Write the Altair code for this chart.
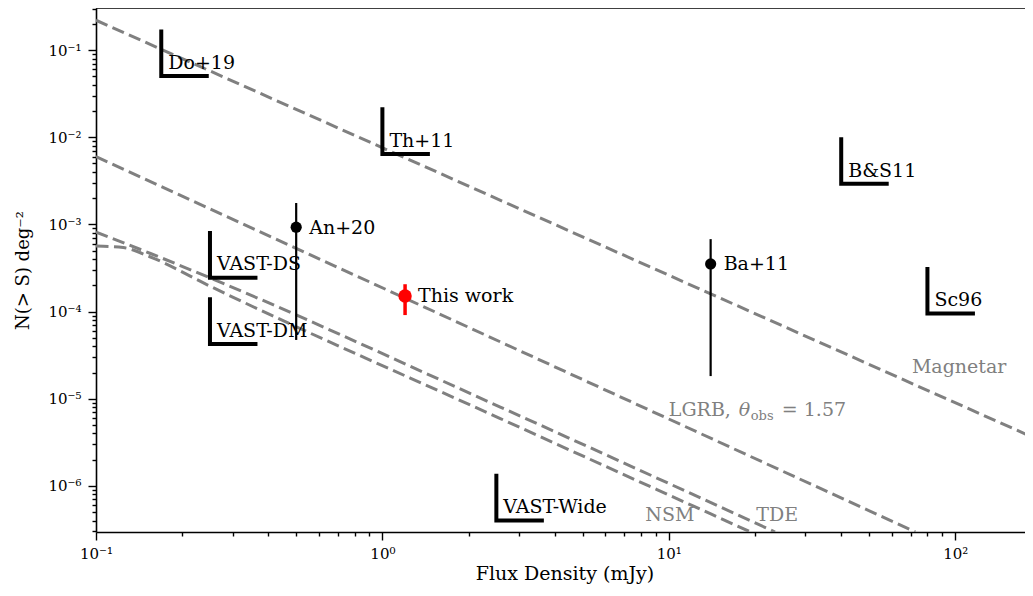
import altair as alt
import pandas as pd

# ---------------- axis limits and ticks ----------------
x_limits = [0.1, 175.3]
y_limits = [2.96e-7, 0.304]
x_decades = [0.1, 1, 10, 100]
y_decades = [1e-7, 1e-6, 1e-5, 1e-4, 1e-3, 1e-2, 1e-1]
minor_multipliers = [2, 3, 4, 5, 6, 7, 8, 9]
exponent_labels = ["⁻⁷", "⁻⁶", "⁻⁵", "⁻⁴", "⁻³", "⁻²", "⁻¹", "⁰", "¹", "²"]

# ---------------- upper limits (L-shaped markers) ----------------
lim_names = ["Do+19", "Th+11", "B&S11", "Sc96", "VAST-DS", "VAST-DM", "VAST-Wide"]
lim_flux = [0.169, 1.0, 40.0, 80.0, 0.25, 0.25, 2.5]
lim_rate = [0.0505, 6.44e-3, 2.92e-3, 9.5e-5, 2.45e-4, 4.26e-5, 4.02e-7]
lim_group = ["lit", "lit", "lit", "lit", "VAST", "VAST", "VAST"]

# ---------------- detections with error bars ----------------
det_names = ["An+20", "Ba+11", "This work"]
det_flux = [0.5, 14.0, 1.2]
det_rate = [9.29e-4, 3.52e-4, 1.51e-4]
det_low = [4.73e-5, 1.82e-5, 9.12e-5]
det_high = [1.76e-3, 6.78e-4, 2.06e-4]
det_group = ["lit", "lit", "this"]

# ---------------- model curves ----------------
magnetar_flux = [0.1, 185.4]
magnetar_rate = [0.22, 3.65e-6]
lgrb_flux = [0.1, 72.6]
lgrb_rate = [6.0e-3, 2.96e-7]
tde_flux = [0.1, 0.155, 0.249, 2.58, 23.5]
tde_rate = [8.15e-4, 4.64e-4, 2.45e-4, 8.03e-6, 2.96e-7]
nsm_flux = [0.1, 0.1245, 0.155, 0.249, 2.58, 19.3]
nsm_rate = [5.64e-4, 5.42e-4, 4.23e-4, 1.97e-4, 5.93e-6, 2.96e-7]

# ---------------- curve labels ----------------
curve_label_names = ["Magnetar", "NSM", "TDE"]
curve_label_flux = [70.6, 8.28, 20.2]
curve_label_rate = [1.96e-5, 3.99e-7, 3.99e-7]
lgrb_label_flux = [10.0]
lgrb_label_rate = [6.38e-6]

# ---------------- build tables ----------------
x_ticks = sorted({round(d * m, 6) for d in x_decades for m in [1] + minor_multipliers
                  if x_limits[0] <= d * m <= x_limits[1]})
y_ticks = sorted({float(f"{d * m:.3g}") for d in y_decades for m in [1] + minor_multipliers
                  if y_limits[0] <= d * m <= y_limits[1]})

curves = []
for name, fx, ry in [("Magnetar", magnetar_flux, magnetar_rate), ("LGRB", lgrb_flux, lgrb_rate),
                     ("TDE", tde_flux, tde_rate), ("NSM", nsm_flux, nsm_rate)]:
    for i, (f, r) in enumerate(zip(fx, ry)):
        curves.append({"model": name, "flux": f, "rate": r, "order": i})
curves_df = pd.DataFrame(curves)

lim_df = pd.DataFrame({"name": lim_names, "flux": lim_flux, "rate": lim_rate, "group": lim_group})
det_df = pd.DataFrame({"name": det_names, "flux": det_flux, "rate": det_rate,
                       "low": det_low, "high": det_high, "group": det_group})
clabel_df = pd.DataFrame({"name": curve_label_names, "flux": curve_label_flux, "rate": curve_label_rate})
lgrb_df = pd.DataFrame({"flux": lgrb_label_flux, "rate": lgrb_label_rate})

# ---------------- scales & axes ----------------
FONT = "DejaVu Serif"
DEC = "abs(log(datum.value)/LN10 - round(log(datum.value)/LN10)) < 0.01"
SUP = "[" + ",".join(f"'{s}'" for s in exponent_labels) + "][round(log(datum.value)/LN10) + 7]"
LABEL_EXPR = f"{DEC} ? '10' + {SUP} : ''"
TICK_SIZE = {"condition": {"test": DEC, "value": 8}, "value": 4}

W, H = 929, 524

x_scale = alt.Scale(type="log", domain=x_limits, nice=False)
y_scale = alt.Scale(type="log", domain=y_limits, nice=False)

x_axis = alt.Axis(values=x_ticks, labelExpr=LABEL_EXPR, tickSize=TICK_SIZE, grid=False,
                  labelFlush=False, labelOverlap=False, labelPadding=6,
                  title="Flux Density (mJy)", titleX=(937 / 2), titleY=47,
                  titleBaseline="alphabetic", titleAlign="center")
y_axis = alt.Axis(values=y_ticks, labelExpr=LABEL_EXPR, tickSize=TICK_SIZE, grid=False,
                  labelOverlap=False, labelPadding=7,
                  title="N(> S) deg⁻²", titleX=-67.5, titleY=H / 2, titleAngle=270,
                  titleBaseline="alphabetic", titleAlign="center", titleFontSize=18)

X = alt.X("flux:Q", scale=x_scale, axis=x_axis)
Y = alt.Y("rate:Q", scale=y_scale, axis=y_axis)

GRAY = "#808080"
grp_color = alt.Color("group:N", scale=alt.Scale(domain=["lit", "this"], range=["black", "red"]), legend=None)
grp_width = alt.StrokeWidth("group:N", scale=alt.Scale(domain=["lit", "this"], range=[2.2, 3.5]), legend=None)

lines = alt.Chart(curves_df).mark_line(
    strokeDash=[12.5, 5.5], strokeWidth=3, color=GRAY, interpolate="monotone", clip=True
).encode(x=X, y=Y, detail="model:N", order="order:Q")

errbars = alt.Chart(det_df).mark_rule().encode(
    x=X, y=Y, y2=alt.Y2("low:Q"), color=grp_color, strokeWidth=grp_width)
errbars_up = alt.Chart(det_df).mark_rule().encode(
    x=X, y=alt.Y("high:Q", scale=y_scale, axis=y_axis), y2=alt.Y2("rate:Q"),
    color=grp_color, strokeWidth=grp_width)

dots = alt.Chart(det_df).mark_circle(opacity=1).encode(
    x=X, y=Y, color=grp_color,
    size=alt.Size("group:N", scale=alt.Scale(domain=["lit", "this"], range=[125, 180]), legend=None),
)

det_labels = alt.Chart(det_df).mark_text(
    align="left", baseline="alphabetic", dx=13, dy=6.5, fontSize=19, font=FONT, color="black"
).encode(x=X, y=Y, text="name:N")

limits = alt.Chart(lim_df).mark_point(
    shape="M0,-0.98L0,0L1,0", filled=False, size=9025, strokeWidth=4, opacity=1, strokeJoin="miter"
).encode(
    x=X, y=Y,
    color=alt.Color("group:N", scale=alt.Scale(domain=["lit", "VAST"], range=["black", "blue"]), legend=None),
)

lim_labels = alt.Chart(lim_df).mark_text(
    align="left", baseline="alphabetic", dx=7, dy=-7.3, fontSize=19, font=FONT, color="black"
).encode(x=X, y=Y, text="name:N")

curve_labels = alt.Chart(clabel_df).mark_text(
    align="left", baseline="alphabetic", fontSize=19, font=FONT, color=GRAY
).encode(x=X, y=Y, text="name:N")

lg1 = alt.Chart(lgrb_df).mark_text(text="LGRB,", align="left", baseline="alphabetic",
                                   fontSize=19, font=FONT, color=GRAY).encode(x=X, y=Y)
lg2 = alt.Chart(lgrb_df).mark_text(text="θ", align="left", baseline="alphabetic", dx=70,
                                   fontSize=19, font=FONT, fontStyle="italic", color=GRAY).encode(x=X, y=Y)
lg3 = alt.Chart(lgrb_df).mark_text(text="obs", align="left", baseline="alphabetic", dx=82, dy=4.5,
                                   fontSize=13, font=FONT, color=GRAY).encode(x=X, y=Y)
lg4 = alt.Chart(lgrb_df).mark_text(text="= 1.57", align="left", baseline="alphabetic", dx=113,
                                   fontSize=19, font=FONT, color=GRAY).encode(x=X, y=Y)

# top frame line of the axes box (the right side is cropped in the reference)
top_frame = alt.Chart(lgrb_df).mark_rule(color="black", strokeWidth=1.6).encode(
    x=alt.value(0), x2=alt.value(W), y=alt.value(0))

chart = alt.layer(
    lines, errbars, errbars_up, dots, det_labels, limits, lim_labels, curve_labels,
    lg1, lg2, lg3, lg4, top_frame
).properties(
    width=W, height=H,
    autosize=alt.AutoSizeParams(type="none"),
    padding={"left": 88, "top": 0, "right": 0, "bottom": 54},
    background="white",
).configure_view(
    strokeWidth=0
).configure_axis(
    labelFont=FONT, labelFontSize=15, labelColor="black",
    titleFont=FONT, titleFontSize=19, titleFontWeight="normal", titleColor="black",
    domainColor="black", domainWidth=1.6, tickColor="black", tickWidth=1.4,
)

chart.save("out.html", embed_options={"renderer": "svg", "actions": False})
